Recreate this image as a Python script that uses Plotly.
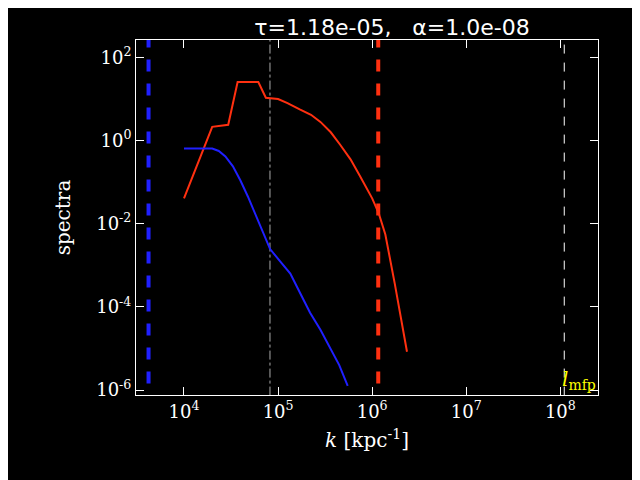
import plotly.graph_objects as go

red_k = [1e4, 10**4.30, 10**4.47, 10**4.57, 10**4.79, 10**4.87, 10**5.0, 10**5.1, 10**5.23, 10**5.35, 10**5.45,
         10**5.56, 10**5.66, 10**5.77, 10**5.87, 10**6.0, 10**6.07, 10**6.14, 10**6.24, 10**6.31, 10**6.37]
red_s = [10**-1.39, 10**0.33, 10**0.38, 10**1.41, 10**1.41, 10**1.03, 10**1.0, 10**0.9, 10**0.75, 10**0.62, 10**0.45,
         10**0.2, 10**-0.1, 10**-0.45, 10**-0.85, 10**-1.39, 10**-1.75, 10**-2.26, 10**-3.44, 10**-4.3, 10**-5.08]
blue_k = [1e4, 10**4.3, 10**4.37, 10**4.44, 10**4.52, 10**4.6, 10**4.68, 10**4.76, 10**4.84, 10**4.915,
          10**5.02, 10**5.13, 10**5.23, 10**5.34, 10**5.45, 10**5.55, 10**5.65, 10**5.74]
blue_s = [10**-0.19, 10**-0.19, 10**-0.25, 10**-0.38, 10**-0.62, 10**-0.96, 10**-1.35, 10**-1.79, 10**-2.2, 10**-2.61,
          10**-2.9, 10**-3.2, 10**-3.65, 10**-4.14, 10**-4.55, 10**-4.96, 10**-5.4, 10**-5.9]
x_ticks = [1e4, 1e5, 1e6, 1e7, 1e8]
x_labels = ["10<sup>4</sup>", "10<sup>5</sup>", "10<sup>6</sup>", "10<sup>7</sup>", "10<sup>8</sup>"]
y_ticks = [1e-6, 1e-4, 1e-2, 1e0, 1e2]
y_labels = ["10<sup>-6</sup>", "10<sup>-4</sup>", "10<sup>-2</sup>", "10<sup>0</sup>", "10<sup>2</sup>"]

vlines = [(4.2e3, "#2020ff", "dash", 4), (8.2e4, "#aaaaaa", "dashdot", 1),
          (1.16e6, "#ff3010", "dash", 4), (1.1e8, "white", "dash", 1)]

fig = go.Figure()
for xv, col, dash, w in vlines:
    fig.add_trace(go.Scatter(x=[xv, xv], y=[1e-7, 1e3], mode="lines",
                             line=dict(color=col, dash=dash, width=w), showlegend=False))
fig.add_trace(go.Scatter(x=red_k, y=red_s, mode="lines", line=dict(color="#ff3010", width=2), showlegend=False))
fig.add_trace(go.Scatter(x=blue_k, y=blue_s, mode="lines", line=dict(color="#2020ff", width=2), showlegend=False))

font = dict(family="DejaVu Serif", color="white", size=18)
axis = dict(type="log", showgrid=False, zeroline=False, showline=True, mirror="ticks", linecolor="white",
            ticks="inside", tickcolor="white", ticklen=8, tickfont=font, automargin=False)
fig.update_layout(
    width=640, height=480, paper_bgcolor="black", plot_bgcolor="black",
    margin=dict(l=128, r=50, t=32, b=93),
    title=dict(text="τ=1.18e-05,   α=1.0e-08", x=0.6, xanchor="center", y=0.975,
               font=dict(family="DejaVu Sans", color="white", size=22)),
    xaxis=dict(axis, range=[3.49, 8.40], tickvals=x_ticks, ticktext=x_labels,
               title=dict(text="<i>k</i> [kpc<sup>-1</sup>]", font=dict(font, size=20), standoff=12)),
    yaxis=dict(axis, range=[-6.12, 2.42], tickvals=y_ticks, ticktext=y_labels,
               title=dict(text="spectra", font=dict(font, size=20), standoff=20)),
    annotations=[dict(x=8.2, y=-5.75, xref="x", yref="y", text="<i>l</i><sub>mfp</sub>", showarrow=False,
                      font=dict(family="DejaVu Serif", color="yellow", size=20))],
)
fig.write_html("out.html")
